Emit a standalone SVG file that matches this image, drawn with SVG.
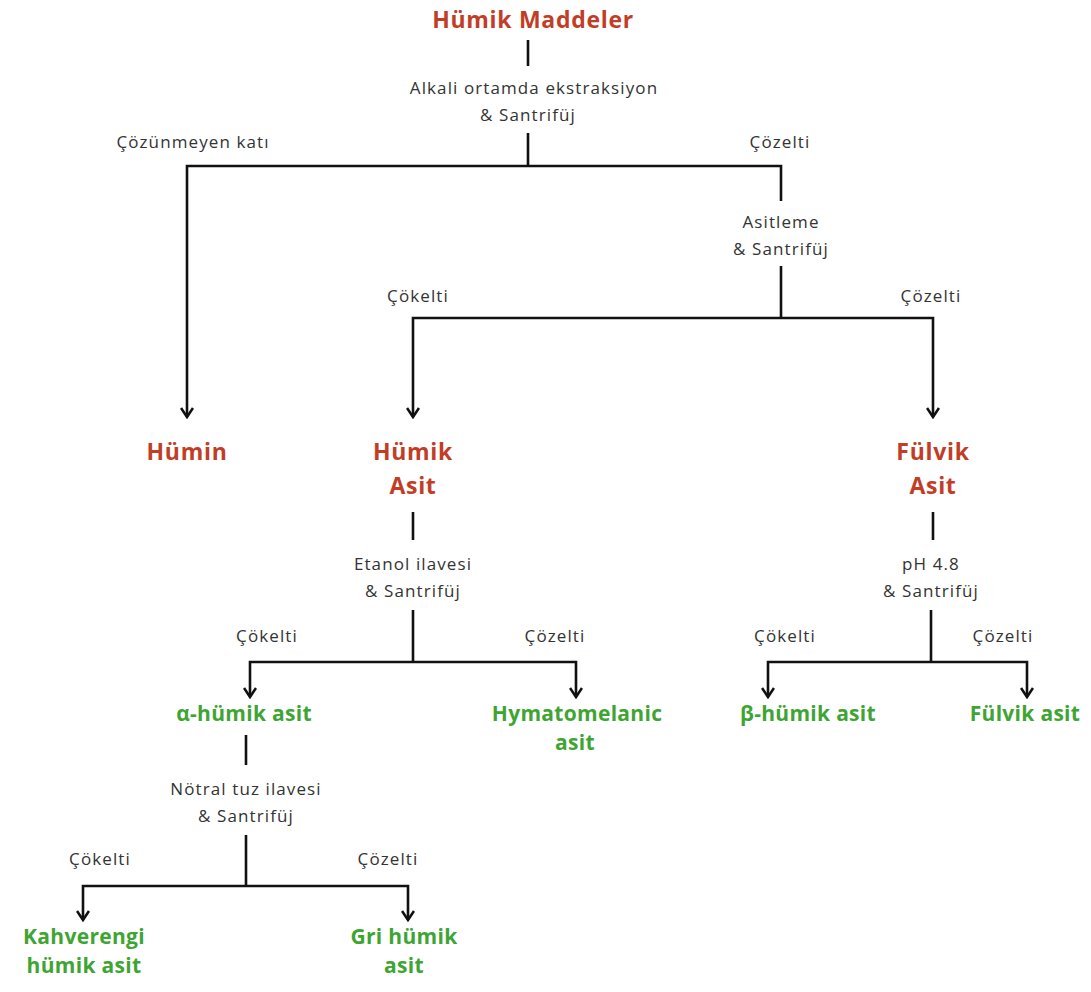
<svg xmlns="http://www.w3.org/2000/svg" width="1091" height="992" viewBox="0 0 1091 992">
<defs>
<marker id="arr" viewBox="0 0 12 14" refX="10.5" refY="7" markerWidth="12" markerHeight="14" markerUnits="userSpaceOnUse" orient="auto-start-reverse">
<polyline points="1.5,1 10.5,7 1.5,13" fill="none" stroke="#111" stroke-width="2.6"/>
</marker>
<style>
.ln{fill:none;stroke:#111;stroke-width:2.6}
.lb{font-family:"Open Sans","Liberation Sans",sans-serif;font-size:17px;letter-spacing:1.1px;fill:#333;text-anchor:middle}
.red{font-family:"Open Sans","Liberation Sans",sans-serif;font-size:23px;letter-spacing:0.7px;font-weight:bold;fill:#c23d26;text-anchor:middle}
.grn{font-family:"Open Sans","Liberation Sans",sans-serif;font-size:21px;letter-spacing:0.3px;font-weight:bold;fill:#3ea533;text-anchor:middle}
</style>
</defs>
<rect width="1091" height="992" fill="#fff"/>
<g id="connectors">
<path class="ln" d="M528,40 V66"/>
<path class="ln" d="M528,133 V166"/>
<path class="ln" d="M187,417 V166 H781 V201" marker-start="url(#arr)"/>
<path class="ln" d="M781,266 V318"/>
<path class="ln" d="M413,417 V318 H933 V417" marker-start="url(#arr)" marker-end="url(#arr)"/>
<path class="ln" d="M413,512 V540"/>
<path class="ln" d="M413,610 V662"/>
<path class="ln" d="M250,697 V662 H576 V697" marker-start="url(#arr)" marker-end="url(#arr)"/>
<path class="ln" d="M933,512 V540"/>
<path class="ln" d="M931,610 V662"/>
<path class="ln" d="M768,697 V662 H1027 V697" marker-start="url(#arr)" marker-end="url(#arr)"/>
<path class="ln" d="M246,735 V765"/>
<path class="ln" d="M246,835 V886"/>
<path class="ln" d="M83,920 V886 H408 V920" marker-start="url(#arr)" marker-end="url(#arr)"/>
</g>
<g id="n-humik-maddeler"><text class="red" x="533" y="28">Hümik Maddeler</text></g>
<g id="s-alkali"><text class="lb" x="534" y="94">Alkali ortamda ekstraksiyon</text><text class="lb" x="528" y="121">&amp; Santrifüj</text></g>
<g id="l-cozunmeyen"><text class="lb" x="193" y="148">Çözünmeyen katı</text></g>
<g id="l-cozelti1"><text class="lb" x="780" y="148">Çözelti</text></g>
<g id="s-asitleme"><text class="lb" x="781" y="228">Asitleme</text><text class="lb" x="781" y="255">&amp; Santrifüj</text></g>
<g id="l-cokelti1"><text class="lb" x="418" y="302">Çökelti</text></g>
<g id="l-cozelti2"><text class="lb" x="931" y="302">Çözelti</text></g>
<g id="n-humin"><text class="red" x="187" y="460">Hümin</text></g>
<g id="n-humik-asit"><text class="red" x="413" y="460">Hümik</text><text class="red" x="413" y="494">Asit</text></g>
<g id="n-fulvik-asit"><text class="red" x="933" y="460">Fülvik</text><text class="red" x="933" y="494">Asit</text></g>
<g id="s-etanol"><text class="lb" x="413" y="570">Etanol ilavesi</text><text class="lb" x="413" y="597">&amp; Santrifüj</text></g>
<g id="l-cokelti2"><text class="lb" x="267" y="642">Çökelti</text></g>
<g id="l-cozelti3"><text class="lb" x="555" y="642">Çözelti</text></g>
<g id="s-ph"><text class="lb" x="931" y="570">pH 4.8</text><text class="lb" x="931" y="597">&amp; Santrifüj</text></g>
<g id="l-cokelti3"><text class="lb" x="785" y="642">Çökelti</text></g>
<g id="l-cozelti4"><text class="lb" x="1003" y="642">Çözelti</text></g>
<g id="n-alfa"><text class="grn" x="244" y="721">α-hümik asit</text></g>
<g id="n-hymato"><text class="grn" x="577" y="721">Hymatomelanic</text><text class="grn" x="575" y="750">asit</text></g>
<g id="n-beta"><text class="grn" x="808" y="721">β-hümik asit</text></g>
<g id="n-fulvik"><text class="grn" x="1025" y="721">Fülvik asit</text></g>
<g id="s-notral"><text class="lb" x="246" y="795">Nötral tuz ilavesi</text><text class="lb" x="246" y="822">&amp; Santrifüj</text></g>
<g id="l-cokelti4"><text class="lb" x="100" y="865">Çökelti</text></g>
<g id="l-cozelti5"><text class="lb" x="388" y="865">Çözelti</text></g>
<g id="n-kahve"><text class="grn" x="84" y="944">Kahverengi</text><text class="grn" x="84" y="973">hümik asit</text></g>
<g id="n-gri"><text class="grn" x="404" y="944">Gri hümik</text><text class="grn" x="404" y="973">asit</text></g>
</svg>
